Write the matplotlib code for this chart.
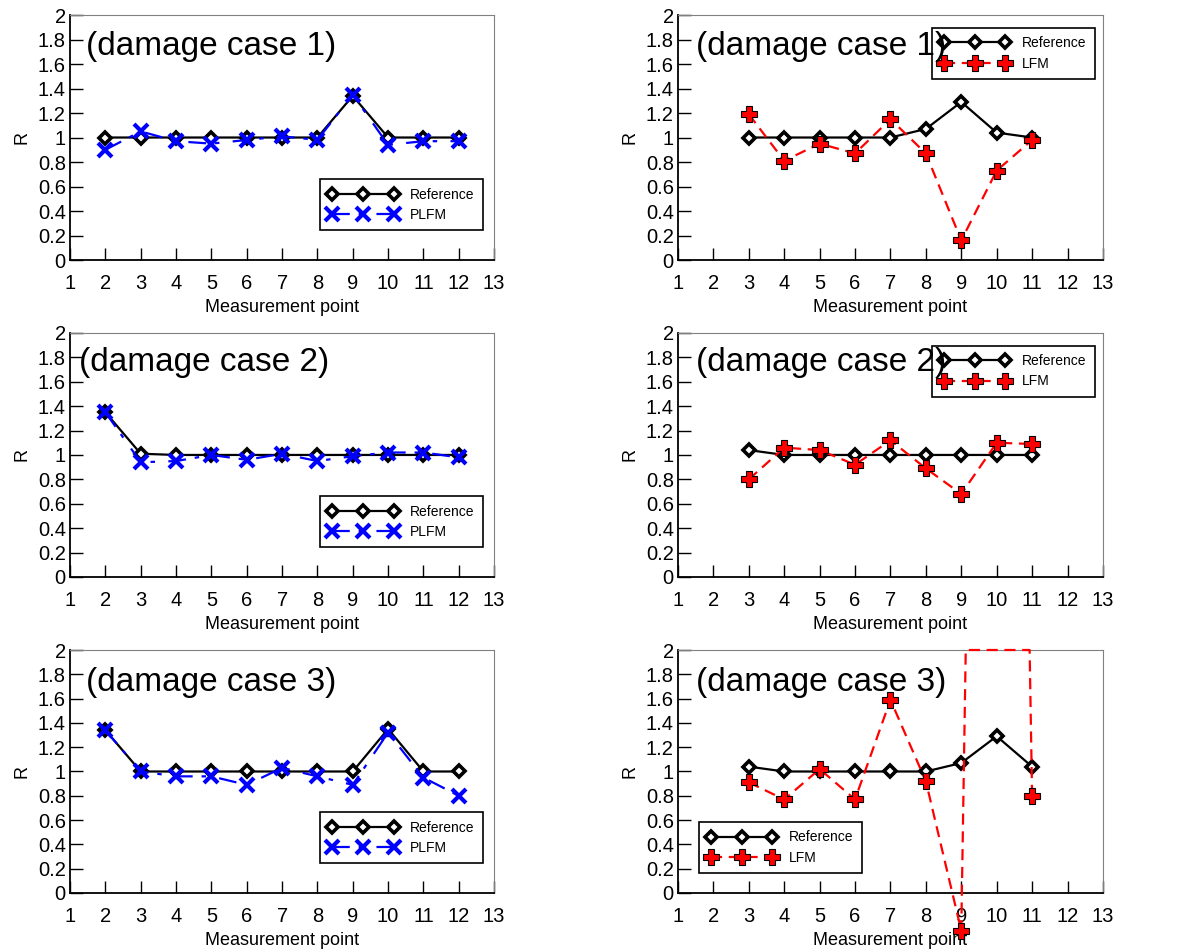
import numpy as np
import matplotlib
matplotlib.use('Agg')
import matplotlib.pyplot as plt

plt.rcParams['font.family'] = ['Liberation Sans', 'DejaVu Sans']

# measurement points
pts_left = [2, 3, 4, 5, 6, 7, 8, 9, 10, 11, 12]
pts_right = [3, 4, 5, 6, 7, 8, 9, 10, 11]

# left column: Reference vs PLFM
ref_l1 = [1.0, 1.0, 1.0, 1.0, 1.0, 1.0, 1.0, 1.34, 1.0, 1.0, 1.0]
plfm_1 = [0.90, 1.05, 0.97, 0.95, 0.98, 1.01, 0.98, 1.35, 0.94, 0.97, 0.97]
ref_l2 = [1.35, 1.01, 1.0, 1.0, 1.0, 1.0, 1.0, 1.0, 1.0, 1.0, 1.0]
plfm_2 = [1.35, 0.94, 0.95, 1.0, 0.96, 1.01, 0.95, 0.99, 1.02, 1.02, 0.98]
ref_l3 = [1.34, 1.0, 1.0, 1.0, 1.0, 1.0, 1.0, 1.0, 1.35, 1.0, 1.0]
plfm_3 = [1.34, 1.0, 0.96, 0.96, 0.89, 1.03, 0.96, 0.89, 1.32, 0.95, 0.80]

# right column: Reference vs LFM
ref_r1 = [1.0, 1.0, 1.0, 1.0, 1.0, 1.07, 1.29, 1.04, 1.0]
lfm_1 = [1.19, 0.81, 0.95, 0.87, 1.15, 0.87, 0.16, 0.73, 0.98]
ref_r2 = [1.04, 1.0, 1.0, 1.0, 1.0, 1.0, 1.0, 1.0, 1.0]
lfm_2 = [0.80, 1.06, 1.04, 0.92, 1.12, 0.89, 0.68, 1.10, 1.09]
ref_r3 = [1.04, 1.0, 1.0, 1.0, 1.0, 1.0, 1.07, 1.29, 1.04]
lfm_3 = [0.91, 0.77, 1.02, 0.77, 1.59, 0.92, -0.31, 18.0, 0.80]

case_labels = ['(damage case 1)', '(damage case 2)', '(damage case 3)']
ytick_labels = ['0', '0.2', '0.4', '0.6', '0.8', '1', '1.2', '1.4', '1.6',
                '1.8', '2']
YMAX = 2.0


def clip_top(x, y, ymax):
    # follow the top edge where the line leaves the plot area (as in the source)
    px, py = [x[0]], [min(y[0], ymax)]
    for i in range(1, len(x)):
        x0, y0, x1, y1 = x[i-1], y[i-1], x[i], y[i]
        if (y0 - ymax) * (y1 - ymax) < 0:
            px.append(x0 + (ymax - y0) * (x1 - x0) / (y1 - y0))
            py.append(ymax)
        px.append(x1)
        py.append(min(y1, ymax))
    return px, py


def style_axes(ax):
    ax.set_xlim(1, 13)
    ax.set_ylim(0, 2)
    ax.set_xticks(range(1, 14))
    ax.set_yticks(np.linspace(0, 2, 11))
    ax.set_yticklabels(ytick_labels)
    ax.tick_params(direction='in', length=9, width=1, labelsize=14.5,
                   top=False, right=False)
    ax.tick_params(axis='x', pad=10)
    ax.tick_params(axis='y', pad=3)
    for s in ['top', 'right']:
        ax.spines[s].set_color('#808080')
    for s in ['left', 'bottom']:
        ax.spines[s].set_color('black')
        ax.spines[s].set_linewidth(1.3)
    ax.set_xlabel('Measurement point', fontsize=13, labelpad=4.5)
    ax.set_ylabel('R', fontsize=13, labelpad=5)


def add_legend(ax, loc, anchor):
    leg = ax.legend(loc=loc, bbox_to_anchor=anchor, numpoints=3,
                    handlelength=5.0, fontsize=10, fancybox=False,
                    framealpha=1, edgecolor='k', borderpad=0.6,
                    labelspacing=0.45, handletextpad=0.9, borderaxespad=0)
    leg.get_frame().set_linewidth(1.2)


fig = plt.figure(figsize=(11.97, 9.51), dpi=100)

lefts = [0.0585, 0.5664]
width = 0.355
rows = [(0.7266, 0.2576), (0.3933, 0.2566), (0.0610, 0.2555)]

ref_kw = dict(color='k', lw=1.6, marker='D', ms=6.5, mfc='white', mec='k',
              mew=2.6)
plfm_kw = dict(color='#0000ff', lw=1.6, ls=(0, (8, 4, 2, 6)), marker='x',
               ms=10, mew=3)
lfm_kw = dict(color='#ff0000', lw=1.6, ls=(0, (5, 3)), marker='P', ms=11,
              mfc='#ff0000', mec='k', mew=0.8)

left_data = [(ref_l1, plfm_1), (ref_l2, plfm_2), (ref_l3, plfm_3)]
right_data = [(ref_r1, lfm_1), (ref_r2, lfm_2), (ref_r3, lfm_3)]
title_pos_l = [(0.038, 0.87), (0.022, 0.88), (0.038, 0.865)]
title_pos_r = [(0.043, 0.87), (0.043, 0.88), (0.043, 0.865)]
leg_r = [('upper right', (0.981, 0.947)), ('upper right', (0.981, 0.947)),
         ('lower left', (0.049, 0.082))]

for i, (b, h) in enumerate(rows):
    # left: PLFM
    ax = fig.add_axes([lefts[0], b, width - 0.0007, h])
    ref, est = left_data[i]
    ax.plot(pts_left, ref, label='Reference', **ref_kw)
    ax.plot(pts_left, est, label='PLFM', **plfm_kw)
    style_axes(ax)
    ax.text(*title_pos_l[i], case_labels[i], transform=ax.transAxes,
            fontsize=24, va='center', ha='left', zorder=6)
    add_legend(ax, 'lower right', (0.974, 0.122))

    # right: LFM
    ax = fig.add_axes([lefts[1], b, width, h])
    ref, est = right_data[i]
    ax.plot(pts_right, ref, label='Reference', **ref_kw)
    style_axes(ax)
    if max(est) > YMAX:
        lx, ly = clip_top(pts_right, est, YMAX)
        ax.plot(lx, ly, color=lfm_kw['color'], lw=lfm_kw['lw'],
                ls=lfm_kw['ls'], clip_on=False, zorder=4)
        keep = [k for k in range(len(est)) if est[k] <= YMAX]
        ax.plot([pts_right[k] for k in keep], [est[k] for k in keep],
                ls='none', marker='P', ms=11, mfc='#ff0000', mec='k',
                mew=0.8, clip_on=False, zorder=4)
        ax.plot([], [], label='LFM', **lfm_kw)
    else:
        ax.plot(pts_right, est, label='LFM', **lfm_kw)
    ax.text(*title_pos_r[i], case_labels[i], transform=ax.transAxes,
            fontsize=24, va='center', ha='left', zorder=6)
    add_legend(ax, *leg_r[i])

fig.savefig('out.png', dpi=100)
